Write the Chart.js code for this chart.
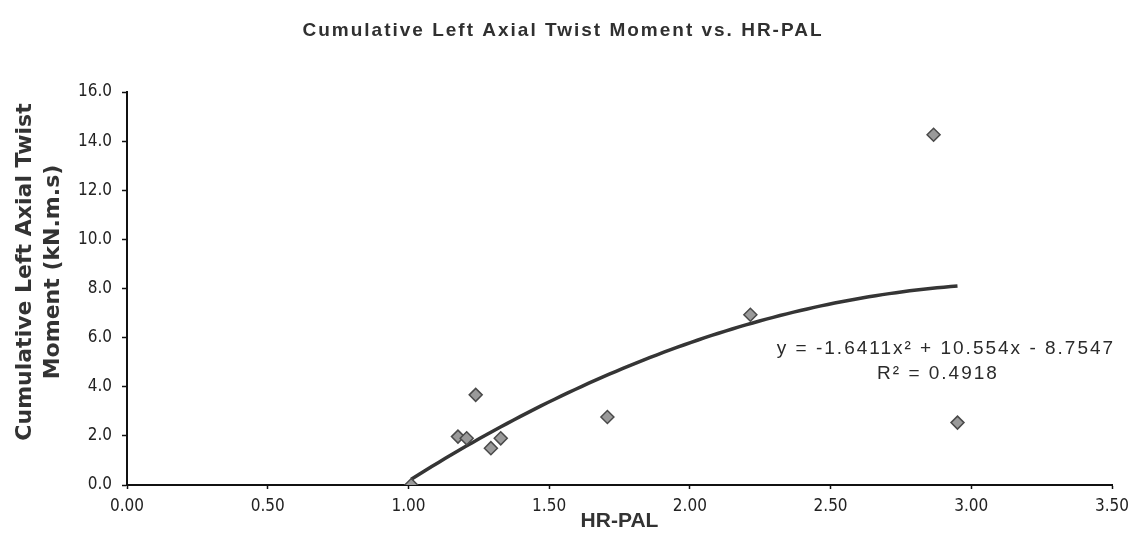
<!DOCTYPE html>
<html>
<head>
<meta charset="utf-8">
<script src="https://cdn.jsdelivr.net/npm/chart.js@4/dist/chart.umd.min.js"></script>
<style>
  html, body { margin: 0; padding: 0; background: #ffffff; }
  canvas { display: block; }
</style>
</head>
<body>
<canvas id="chart" width="1132" height="552"></canvas>
<script>
// Measured samples: HR-PAL against cumulative left axial twist moment (kN.m.s)
const hrPal       = [1.01, 1.176, 1.207, 1.239, 1.293, 1.328, 1.707, 2.215, 2.866, 2.951];
const twistMoment = [0.00, 1.97,  1.90,  3.67,  1.50,  1.90,  2.77,  6.93,  14.26, 2.54];

// Second-order polynomial fit: y = a*x^2 + b*x + c
const fitCoeffs = [-1.6411, 10.554, -8.7547];
const fitLabel  = ['y = -1.6411x\u00B2 + 10.554x - 8.7547', 'R\u00B2 = 0.4918'];

const chartTitle = 'Cumulative Left Axial Twist Moment vs. HR-PAL';
const xTitle = 'HR-PAL';
const yTitle = ['Cumulative Left Axial Twist', 'Moment (kN.m.s)'];

// Axis ranges and tick steps
const xRange = [0, 3.5, 0.5];
const yRange = [0, 16, 2];

// Trend curve over the span of the measured HR-PAL values
const fitX0 = Math.min(...hrPal), fitX1 = Math.max(...hrPal);
const fitPoints = [];
for (let i = 0; i <= 80; i++) {
  const x = fitX0 + (fitX1 - fitX0) * i / 80;
  fitPoints.push({ x, y: fitCoeffs[0] * x * x + fitCoeffs[1] * x + fitCoeffs[2] });
}

const tickFont = { family: "'DejaVu Sans Condensed', 'DejaVu Sans', sans-serif", size: 17 };

// Draws the heading, the rotated value-axis title and the fit equation
const annotations = {
  id: 'annotations',
  afterDraw(chart) {
    const { ctx, scales } = chart;
    ctx.save();
    ctx.textBaseline = 'middle';
    ctx.textAlign = 'center';

    // heading
    ctx.fillStyle = '#303030';
    ctx.font = "bold 19px 'Liberation Sans', Arial, sans-serif";
    ctx.letterSpacing = '2px';
    ctx.fillText(chartTitle, 563, 31);

    // value-axis title, two rotated lines
    ctx.save();
    ctx.translate(0, 272);
    ctx.rotate(-Math.PI / 2);
    ctx.font = "bold 22px 'DejaVu Sans', sans-serif";
    ctx.letterSpacing = '0px';
    ctx.fillStyle = '#333333';
    ctx.fillText(yTitle[0], 0, 25);
    ctx.fillText(yTitle[1], 0, 53);
    ctx.restore();

    // fit equation
    ctx.font = "19px 'Liberation Sans', Arial, sans-serif";
    ctx.letterSpacing = '2px';
    ctx.fillStyle = '#2a2a2a';
    const cx = scales.x.getPixelForValue(2.91);
    const cy = scales.y.getPixelForValue(5.0);
    ctx.fillText(fitLabel[0], cx, cy - 13);
    ctx.fillText(fitLabel[1], cx - 8, cy + 12);
    ctx.restore();
  }
};

new Chart(document.getElementById('chart'), {
  data: {
    datasets: [
      {
        type: 'scatter',
        label: 'Measured',
        data: hrPal.map((x, i) => ({ x, y: twistMoment[i] })),
        pointStyle: 'rectRot',
        pointRadius: 6.5,
        pointBackgroundColor: '#9a9a9a',
        pointBorderColor: '#4a4a4a',
        pointBorderWidth: 1.5,
        order: 1
      },
      {
        type: 'line',
        label: 'Poly. fit',
        data: fitPoints,
        borderColor: '#353535',
        borderWidth: 3.5,
        pointRadius: 0,
        tension: 0,
        fill: false,
        order: 2
      }
    ]
  },
  options: {
    responsive: false,
    animation: false,
    events: [],
    layout: { padding: { left: 0, right: 20, top: 92, bottom: 0 } },
    plugins: {
      legend: { display: false },
      title: { display: false },
      tooltip: { enabled: false }
    },
    scales: {
      x: {
        type: 'linear',
        min: xRange[0], max: xRange[1],
        afterFit(s) { s.height = 67; s.paddingLeft = 0; s.paddingRight = 0; },
        ticks: {
          stepSize: xRange[2],
          callback: v => v.toFixed(2),
          font: tickFont, color: '#222222', padding: 7, maxRotation: 0
        },
        grid: { drawOnChartArea: false, drawTicks: true, tickLength: 4, tickColor: '#111111', tickWidth: 1.5 },
        border: { display: true, color: '#111111', width: 2 },
        title: {
          display: true, text: xTitle, color: '#333333',
          font: { family: "'Liberation Sans', Arial, sans-serif", size: 21, weight: 'bold' },
          padding: { top: 4, bottom: 18 }
        }
      },
      y: {
        type: 'linear',
        min: yRange[0], max: yRange[1],
        afterFit(s) { s.width = 127; s.paddingTop = 0; s.paddingBottom = 0; },
        ticks: {
          stepSize: yRange[2],
          callback: v => v.toFixed(1),
          font: tickFont, color: '#222222', padding: 10
        },
        grid: { drawOnChartArea: false, drawTicks: true, tickLength: 5, tickColor: '#111111', tickWidth: 1.5 },
        border: { display: true, color: '#111111', width: 2 },
        title: { display: false }
      }
    }
  },
  plugins: [annotations]
});
</script>
</body>
</html>
